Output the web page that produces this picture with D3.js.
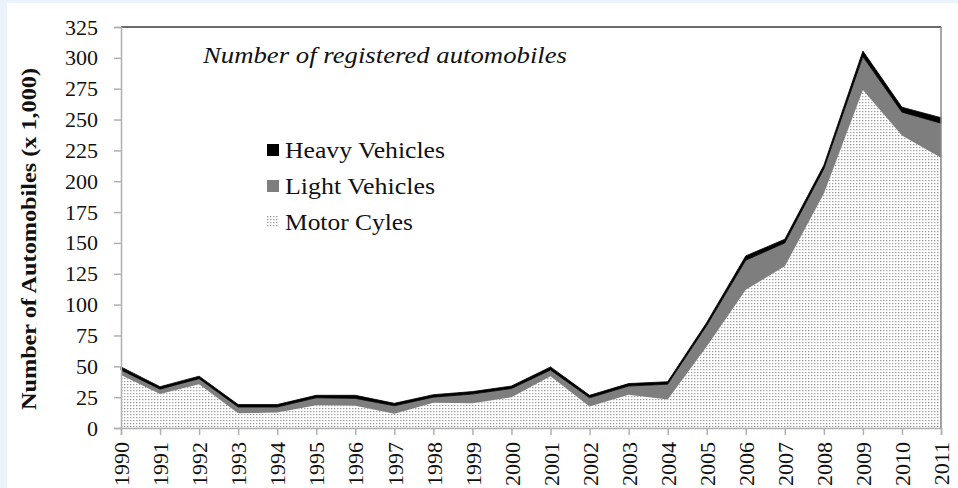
<!DOCTYPE html>
<html>
<head>
<meta charset="utf-8">
<script src="https://cdn.jsdelivr.net/npm/d3@7"></script>
<style>
  body { margin: 0; background: #eaf2fb; }
  svg { display: block; }
  text { font-family: "Liberation Serif", "Times New Roman", serif; fill: #111; }
</style>
</head>
<body>
<svg id="chart" width="958" height="488"></svg>
<script>
// data (thousands)
const years = [1990, 1991, 1992, 1993, 1994, 1995, 1996, 1997, 1998, 1999, 2000,
               2001, 2002, 2003, 2004, 2005, 2006, 2007, 2008, 2009, 2010, 2011];
const motorCycles   = [43, 27.5, 35.5, 12, 12.5, 18.5, 18, 11.5, 20.5, 20, 25,
                       42, 17.5, 27, 23, 66, 112, 131, 190, 274, 237, 219];
const lightVehicles = [4, 4, 4.5, 5, 4.5, 6, 6, 6.5, 4.5, 7.5, 7,
                       5, 7, 7, 12.5, 17, 24, 19, 20, 27, 19, 28];
const heavyVehicles = [2.5, 2, 2, 2, 2, 2, 2.5, 2, 2, 2, 2,
                       2.5, 2, 2, 2, 2.5, 3.5, 3, 3, 4.5, 4, 4.5];
const yTicks = d3.range(0, 326, 25);
const legendItems = ["Heavy Vehicles", "Light Vehicles", "Motor Cyles"];
const legendWidths = [160, 150, 128];

const rows = years.map((y, i) => ({
    year: y, motor: motorCycles[i], light: lightVehicles[i], heavy: heavyVehicles[i]
}));

const svg = d3.select("#chart");
const margin = { top: 27, left: 121, right: 17, bottom: 60 };
const width = 958 - margin.left - margin.right;
const height = 488 - margin.top - margin.bottom;

// white panel (light blue shows at left/top edge)
svg.append("rect").attr("x", 7).attr("y", 3).attr("width", 951).attr("height", 485).attr("fill", "#fff");

// dotted pattern for motor cycles
const defs = svg.append("defs");
const pat = defs.append("pattern")
    .attr("id", "dots").attr("patternUnits", "userSpaceOnUse")
    .attr("width", 3).attr("height", 3);
pat.append("rect").attr("width", 3).attr("height", 3).attr("fill", "#fff");
pat.append("rect").attr("x", 0).attr("y", 0).attr("width", 1.4).attr("height", 1.2).attr("fill", "#a0a0a0");

const g = svg.append("g").attr("transform", `translate(${margin.left},${margin.top})`);

const x = d3.scaleLinear().domain([1990, 2011]).range([0, width]);
const y = d3.scaleLinear().domain([0, 325]).range([height, 0]);

const stack = d3.stack().keys(["motor", "light", "heavy"]);
const series = stack(rows);
const fills = { motor: "url(#dots)", light: "#7e7e7e", heavy: "#000" };

const area = d3.area()
    .x(d => x(d.data.year))
    .y0(d => y(d[0]))
    .y1(d => y(d[1]));

g.selectAll(".layer")
    .data(series)
    .enter().append("path")
    .attr("class", "layer")
    .attr("fill", d => fills[d.key])
    .attr("stroke", d => d.key === "heavy" ? "#000" : "none")
    .attr("stroke-width", 0.8)
    .attr("d", area);

// frame: top dark, right gray
g.append("line").attr("x1", 0).attr("x2", width).attr("y1", 0).attr("y2", 0)
    .attr("stroke", "#3a3a3a").attr("stroke-width", 1.5);
g.append("line").attr("x1", width).attr("x2", width).attr("y1", 0).attr("y2", height)
    .attr("stroke", "#8a8a8a").attr("stroke-width", 1.5);

// y axis
const yAxis = g.append("g")
    .call(d3.axisLeft(y).tickValues(yTicks).tickSize(7).tickPadding(16).tickFormat(d3.format("d")));
yAxis.select(".domain").attr("stroke", "#b0b0b0").attr("stroke-width", 1.5);
yAxis.selectAll(".tick line").attr("stroke", "#b0b0b0").attr("stroke-width", 1.5);
yAxis.selectAll(".tick text")
    .style("font-size", "22px").style("font-family", "Liberation Serif, serif").attr("fill", "#111");

// x axis
const xAxis = g.append("g")
    .attr("transform", `translate(0,${height})`)
    .call(d3.axisBottom(x).tickValues(years).tickSize(7).tickFormat(d3.format("d")));
xAxis.select(".domain").attr("stroke", "#b0b0b0").attr("stroke-width", 1.5);
xAxis.selectAll(".tick line").attr("stroke", "#b0b0b0").attr("stroke-width", 1.5);
xAxis.selectAll(".tick text")
    .style("font-size", "22px").style("font-family", "Liberation Serif, serif").attr("fill", "#111")
    .attr("text-anchor", "end")
    .attr("transform", "rotate(-90)")
    .attr("x", -14).attr("y", 0).attr("dy", "0.35em");

// y axis title
svg.append("text")
    .attr("transform", `translate(36,239) rotate(-90)`)
    .attr("text-anchor", "middle")
    .attr("textLength", 342).attr("lengthAdjust", "spacingAndGlyphs")
    .style("font-size", "22px").style("font-weight", "bold")
    .text("Number of Automobiles (x 1,000)");

// chart title
svg.append("text")
    .attr("x", 203).attr("y", 63)
    .attr("textLength", 364).attr("lengthAdjust", "spacingAndGlyphs")
    .style("font-size", "24px").style("font-style", "italic")
    .text("Number of registered automobiles");

// legend
const legendFills = ["#000", "#7e7e7e", "url(#dots)"];
const legend = svg.append("g");
legendItems.forEach((name, i) => {
    const cy = 150 + i * 36;
    legend.append("rect")
        .attr("x", 267).attr("y", cy - 6).attr("width", 12).attr("height", 12)
        .attr("fill", legendFills[i]);
    legend.append("text")
        .attr("x", 285).attr("y", cy + 8)
        .attr("textLength", legendWidths[i]).attr("lengthAdjust", "spacingAndGlyphs")
        .style("font-size", "23px")
        .text(name);
});
</script>
</body>
</html>
